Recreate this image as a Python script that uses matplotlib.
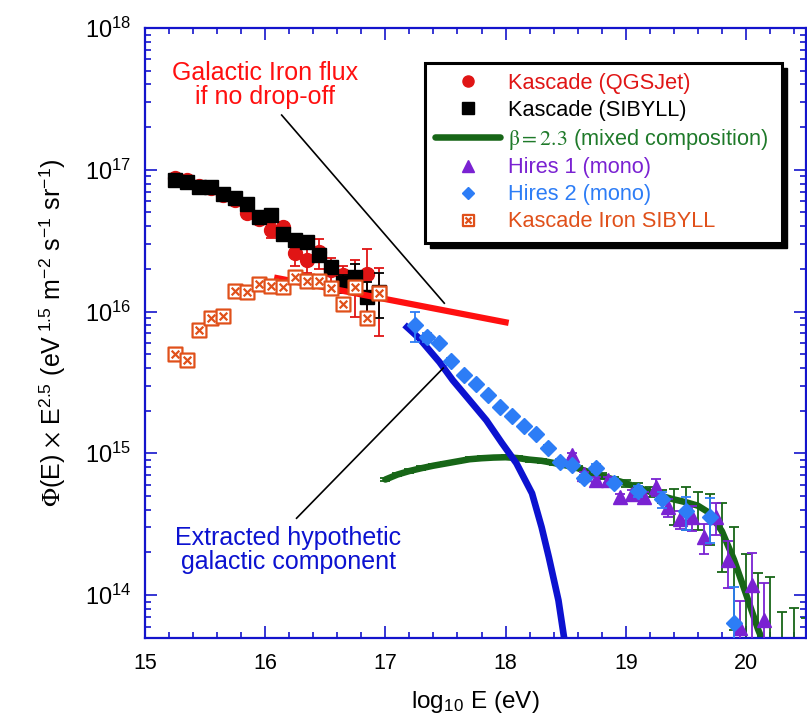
import numpy as np
import matplotlib
matplotlib.use("Agg")
import matplotlib.pyplot as plt
from matplotlib.path import Path
from matplotlib.patches import Rectangle
from matplotlib.ticker import MultipleLocator, LogLocator, NullFormatter

plt.rcParams['font.family'] = ['Liberation Sans', 'DejaVu Sans']
plt.rcParams['mathtext.fontset'] = 'stix'

# Kascade data (log10 E, flux in units of 1e16)
kascade_e = [15.25, 15.35, 15.45, 15.55, 15.65, 15.75, 15.85, 15.95, 16.05,
             16.15, 16.25, 16.35, 16.45, 16.55, 16.65, 16.75, 16.85, 16.95]
qgsjet = [8.74, 8.45, 7.7, 7.4, 6.6, 6.1, 4.95, 4.5, 3.75,
          3.94, 2.58, 2.31, 2.62, 1.96, 1.81, 1.61, 1.84, 1.35]
qgsjet_err = [0.2, 0.2, 0.2, 0.2, 0.2, 0.2, 0.25, 0.3, 0.45,
              0.35, 0.48, 0.45, 0.62, 0.41, 0.28, 0.7, 0.9, 0.68]
sibyll = [8.46, 8.19, 7.55, 7.55, 6.74, 6.31, 5.73, 4.64, 4.79,
          3.52, 3.19, 3.09, 2.50, 2.06, 1.58, 1.75, 1.26, 1.38]
sibyll_err = [0.1, 0.1, 0.1, 0.1, 0.1, 0.1, 0.1, 0.1, 0.15,
              0.15, 0.15, 0.15, 0.15, 0.18, 0.22, 0.42, 0.35, 0.48]
iron = [0.500, 0.454, 0.740, 0.898, 0.929, 1.39, 1.37, 1.56, 1.51,
        1.49, 1.75, 1.64, 1.64, 1.46, 1.13, 1.49, 0.898, 1.35]

# HiRes 2 (flux in 1e15)
hires2_e = [17.25, 17.35, 17.45, 17.55, 17.65, 17.75, 17.85, 17.95, 18.05, 18.15, 18.25,
            18.35, 18.45, 18.55, 18.65, 18.75, 18.9, 19.1, 19.3, 19.5, 19.7, 19.9]
hires2 = [8.02, 6.59, 5.98, 4.47, 3.56, 3.07, 2.57, 2.11, 1.83, 1.55, 1.36,
          1.09, 0.865, 0.824, 0.667, 0.785, 0.615, 0.540, 0.474, 0.390, 0.354, 0.0632]
hires2_lo = [1.9, 0.5, 0.3, 0.25, 0.15, 0.12, 0.1, 0.08, 0.07, 0.06, 0.05,
             0.05, 0.04, 0.04, 0.04, 0.05, 0.04, 0.05, 0.06, 0.10, 0.12, 0.06]
hires2_hi = [1.9, 0.5, 0.3, 0.25, 0.15, 0.12, 0.1, 0.08, 0.07, 0.06, 0.05,
             0.05, 0.04, 0.04, 0.04, 0.05, 0.04, 0.05, 0.06, 0.10, 0.13, 0.05]

# HiRes 1 (flux in 1e14)
hires1_e = [18.55, 18.65, 18.75, 18.85, 18.95, 19.05, 19.15, 19.25, 19.35,
            19.45, 19.55, 19.65, 19.75, 19.85, 19.95, 20.05, 20.15]
hires1 = [9.70, 7.11, 6.46, 6.46, 4.90, 5.14, 4.90, 5.77, 4.17,
          3.43, 3.54, 2.56, 3.54, 1.76, 0.583, 1.17, 0.664]
hires1_lo = [0.4, 0.3, 0.3, 0.3, 0.3, 0.35, 0.4, 0.8, 0.6,
             0.5, 0.73, 0.62, 0.9, 0.63, 0.57, 1.16, 0.65]
hires1_hi = [0.4, 0.3, 0.3, 0.3, 0.3, 0.35, 0.4, 0.8, 0.6,
             0.5, 0.73, 0.62, 0.9, 0.63, 0.32, 0.8, 0.55]

# beta = 2.3 mixed composition fit (flux in 1e14)
beta_e = [17.0, 17.1, 17.2, 17.3, 17.4, 17.5, 17.6, 17.7, 17.8, 17.9, 18.0, 18.1,
          18.2, 18.3, 18.4, 18.5, 18.6, 18.7, 18.8, 18.9, 19.0, 19.1, 19.2, 19.3,
          19.4, 19.5, 19.6, 19.7, 19.8, 19.9, 20.0, 20.1, 20.2, 20.3, 20.4, 20.5]
beta = [6.53, 7.08, 7.50, 7.85, 8.18, 8.47, 8.77, 9.08, 9.23, 9.33, 9.38, 9.25,
        9.02, 8.85, 8.55, 8.22, 7.85, 7.33, 6.92, 6.53, 6.15, 5.75, 5.35, 4.99,
        4.73, 4.52, 4.27, 3.78, 2.82, 1.78, 1.02, 0.575, 0.355, 0.214, 0.126, 0.079]
beta_hi = [0.2, 0.2, 0.22, 0.23, 0.24, 0.25, 0.26, 0.27, 0.28, 0.28, 0.28, 0.28,
           0.28, 0.28, 0.28, 0.28, 0.28, 0.3, 0.3, 0.32, 0.35, 0.4, 0.45, 0.5,
           0.85, 1.25, 1.04, 1.36, 1.63, 1.23, 0.92, 0.85, 0.98, 0.54, 0.69, 0.61]
beta_lo = [0.2, 0.2, 0.22, 0.23, 0.24, 0.25, 0.26, 0.27, 0.28, 0.28, 0.28, 0.28,
           0.28, 0.28, 0.28, 0.28, 0.28, 0.3, 0.3, 0.32, 0.35, 0.4, 0.45, 0.5,
           1.62, 1.66, 1.41, 1.54, 1.37, 1.21, 1.01, 0.57, 0.35, 0.21, 0.125, 0.078]

# extracted galactic component (flux in 1e15)
gal_e = [17.18, 17.28, 17.45, 17.56, 17.70, 17.84, 17.97, 18.09, 18.22, 18.30,
         18.36, 18.44, 18.49, 18.55]
gal = [7.76, 6.49, 4.40, 3.28, 2.37, 1.71, 1.18, 0.851, 0.522, 0.301,
       0.185, 0.0918, 0.048, 0.027]

# galactic iron flux without drop-off
iron_line_e = [16.1, 18.0]
iron_line = [1.72e16, 8.4e15]

c_red = '#E01515'
c_green = '#176617'
c_purple = '#7A22D2'
c_blue = '#2D7DF6'
c_iron = '#E0501A'
c_gal = '#0C12D0'
c_axis = '#1414CC'

s = 1e16
qg = np.array(qgsjet) * s
sb = np.array(sibyll) * s
fe = np.array(iron) * s
h2 = np.array(hires2) * 1e15
h1 = np.array(hires1) * 1e14
bt = np.array(beta) * 1e14

fig = plt.figure(figsize=(8.07, 7.28), dpi=100)
ax = fig.add_axes([0.1797, 0.124, 0.8191, 0.8375])
ax.set_yscale('log')

# beta line
ax.errorbar(beta_e, bt, yerr=[np.array(beta_lo) * 1e14, np.array(beta_hi) * 1e14],
            fmt='none', ecolor=c_green, elinewidth=1.3, capsize=3.5, capthick=1.3, zorder=2)
ax.plot(beta_e, bt, color=c_green, lw=4.7, solid_capstyle='round', zorder=2.1,
        label=r'$\mathrm{\beta{=}2.3}$ (mixed composition)')

# galactic component
ax.plot(gal_e, np.array(gal) * 1e15, color=c_gal, lw=4.8, zorder=2.2)

# kascade
ax.errorbar(kascade_e, qg, yerr=np.array(qgsjet_err) * s, fmt='none', ecolor=c_red,
            elinewidth=1.3, capsize=3.6, capthick=1.3, zorder=3)
ax.plot(kascade_e, qg, 'o', color=c_red, ms=10, ls='none', zorder=3,
        label='Kascade (QGSJet)')
ax.errorbar(kascade_e, sb, yerr=np.array(sibyll_err) * s, fmt='none', ecolor='k',
            elinewidth=1.3, capsize=3.6, capthick=1.3, zorder=3.1)
ax.plot(kascade_e, sb, 's', color='k', ms=10, ls='none', zorder=3.1,
        label='Kascade (SIBYLL)')

# iron line
ax.plot(iron_line_e, iron_line, color='#FF1010', lw=4.5, zorder=3.2)

# iron marker: square with a cross
verts = [(-1, -1), (1, -1), (1, 1), (-1, 1), (-1, -1),
         (-0.55, -0.55), (0.55, 0.55), (-0.55, 0.55), (0.55, -0.55)]
codes = [Path.MOVETO, Path.LINETO, Path.LINETO, Path.LINETO, Path.CLOSEPOLY,
         Path.MOVETO, Path.LINETO, Path.MOVETO, Path.LINETO]
box_x = Path(verts, codes)
ax.plot(kascade_e, fe, marker=box_x, color=c_iron, mfc='white', mec=c_iron, mew=1.6,
        ms=10, ls='none', zorder=3.3, label='Kascade Iron SIBYLL')

# hires
ax.errorbar(hires1_e, h1, yerr=[np.array(hires1_lo) * 1e14, np.array(hires1_hi) * 1e14],
            fmt='none', ecolor=c_purple, elinewidth=1.3, capsize=3.6, capthick=1.3, zorder=3.4)
ax.plot(hires1_e, h1, '^', color=c_purple, ms=10, ls='none', zorder=3.4,
        label='Hires 1 (mono)')
ax.errorbar(hires2_e, h2, yerr=[np.array(hires2_lo) * 1e15, np.array(hires2_hi) * 1e15],
            fmt='none', ecolor=c_blue, elinewidth=1.3, capsize=3.6, capthick=1.3, zorder=3.5)
ax.plot(hires2_e, h2, 'D', color=c_blue, ms=8, ls='none', zorder=3.5,
        label='Hires 2 (mono)')

# annotations
ax.plot([16.137, 17.49], [10 ** 17.386, 10 ** 16.059], color='k', lw=1.2, zorder=4)
ax.text(16.0, 10 ** 17.60, 'Galactic Iron flux\nif no drop-off', color='#FF1010',
        fontsize=18, ha='center', va='center', linespacing=1.0)
ax.plot([16.261, 17.481], [10 ** 14.542, 10 ** 15.601], color='k', lw=1.2, zorder=4)
ax.text(16.19, 10 ** 14.32, 'Extracted hypothetic\ngalactic component', color=c_gal,
        fontsize=18, ha='center', va='center', linespacing=1.0)

ax.set_xlim(15, 20.5)
ax.set_ylim(5e13, 1e18)
ax.xaxis.set_major_locator(MultipleLocator(1))
ax.xaxis.set_minor_locator(MultipleLocator(0.2))
ax.yaxis.set_major_locator(LogLocator(base=10))
ax.yaxis.set_minor_locator(LogLocator(base=10, subs=np.arange(2, 10)))
ax.yaxis.set_minor_formatter(NullFormatter())
ax.tick_params(which='both', direction='in', top=True, right=True, color=c_axis, width=1.2)
ax.tick_params(which='major', length=8.5)
ax.tick_params(which='minor', length=4.3)
ax.tick_params(axis='x', labelsize=15.5, pad=11)
ax.tick_params(axis='y', labelsize=17, pad=10)
for sp in ax.spines.values():
    sp.set_color(c_axis)
    sp.set_linewidth(1.6)

ax.set_xlabel(r'log$_{\mathdefault{10}}$ E (eV)', fontsize=17.5, labelpad=11)
ax.set_ylabel(r'$\Phi$(E) $\times$ E$^{\mathdefault{2.5}}$ (eV$^{\mathdefault{\ 1.5}}$ '
              r'm$^{\mathdefault{-2}}$ s$^{\mathdefault{-1}}$ sr$^{\mathdefault{-1}}$)',
              fontsize=18, labelpad=12)

# legend box with black shadow
bx, by, bw, bh = 0.4236, 0.6474, 0.5401, 0.2952
ax.add_patch(Rectangle((bx + 0.0076, by - 0.0082), bw, bh, transform=ax.transAxes,
                       facecolor='k', edgecolor='k', zorder=6, clip_on=False))
ax.add_patch(Rectangle((bx, by), bw, bh, transform=ax.transAxes, facecolor='white',
                       edgecolor='k', lw=2.2, zorder=6.1, clip_on=False))

handles, labels = ax.get_legend_handles_labels()
order = ['Kascade (QGSJet)', 'Kascade (SIBYLL)', r'$\mathrm{\beta{=}2.3}$ (mixed composition)',
         'Hires 1 (mono)', 'Hires 2 (mono)', 'Kascade Iron SIBYLL']
hmap = dict(zip(labels, handles))
leg = ax.legend([hmap[k] for k in order], order, loc='upper left',
                bbox_to_anchor=(bx, by + bh), borderaxespad=0, borderpad=0.45,
                frameon=False, fontsize=15.7, handlelength=3.0, handletextpad=0.35,
                labelspacing=0.27, markerscale=0.8)
leg.set_zorder(7)
text_colors = [c_red, 'k', '#1F7A2A', c_purple, c_blue, c_iron]
for t, c in zip(leg.get_texts(), text_colors):
    t.set_color(c)

fig.savefig('out.png', dpi=100)
